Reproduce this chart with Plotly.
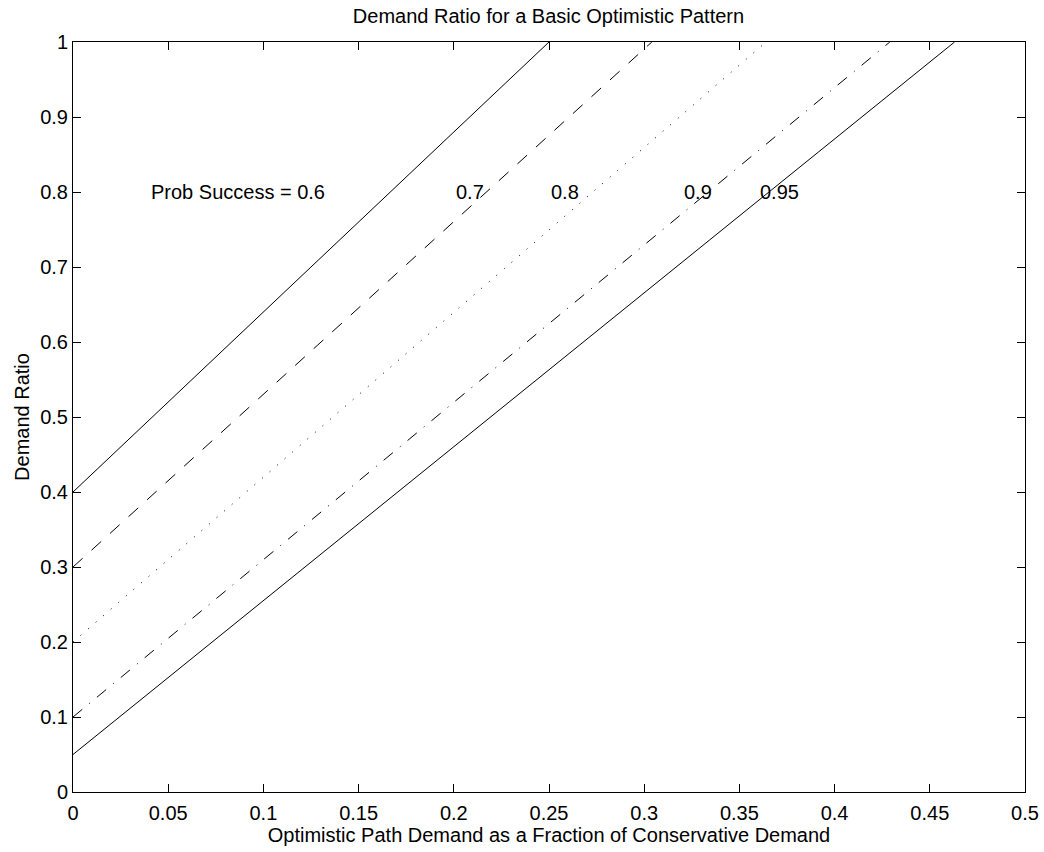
import plotly.graph_objects as go

# Data: each series is a straight line from x=0 up to y=1
prob_labels = ["Prob Success = 0.6", "0.7", "0.8", "0.9", "0.95"]
line_x = [[0.0, 0.25], [0.0, 0.304], [0.0, 0.364], [0.0, 0.429], [0.0, 0.463]]
line_y = [[0.40, 1.0], [0.30, 1.0], [0.20, 1.0], [0.10, 1.0], [0.05, 1.0]]
label_x = [0.04, 0.20, 0.25, 0.32, 0.36]
label_y = [0.8, 0.8, 0.8, 0.8, 0.8]
x_ticks = [0, 0.05, 0.1, 0.15, 0.2, 0.25, 0.3, 0.35, 0.4, 0.45, 0.5]
x_tick_text = ["0", "0.05", "0.1", "0.15", "0.2", "0.25", "0.3", "0.35", "0.4", "0.45", "0.5"]
y_ticks = [0, 0.1, 0.2, 0.3, 0.4, 0.5, 0.6, 0.7, 0.8, 0.9, 1]
y_tick_text = ["0", "0.1", "0.2", "0.3", "0.4", "0.5", "0.6", "0.7", "0.8", "0.9", "1"]

dashes = ["solid", "13px,12px", "1px,9px", "12px,9px,1px,9px", "solid"]

FONT = "Liberation Sans, Arial, sans-serif"
FS = 20

fig = go.Figure()
for xs, ys, d in zip(line_x, line_y, dashes):
    fig.add_trace(go.Scatter(x=xs, y=ys, mode="lines",
                             line=dict(color="black", width=1, dash=d),
                             showlegend=False, hoverinfo="skip"))

for t, lx, ly in zip(prob_labels, label_x, label_y):
    fig.add_annotation(x=lx, y=ly, text=t, showarrow=False, xanchor="left",
                       yanchor="middle", font=dict(family=FONT, size=FS, color="black"))

axis_common = dict(showgrid=False, zeroline=False, showline=True, linecolor="black",
                   linewidth=1, mirror="ticks", ticks="inside", ticklen=8,
                   tickcolor="black", tickwidth=1, automargin=False,
                   tickfont=dict(family=FONT, size=FS, color="black"))

fig.update_xaxes(range=[0, 0.5], tickvals=x_ticks, ticktext=x_tick_text,
                 ticklabelstandoff=3,
                 title=dict(text="Optimistic Path Demand as a Fraction of Conservative Demand",
                            font=dict(family=FONT, size=FS, color="black"), standoff=3),
                 **axis_common)
fig.update_yaxes(range=[0, 1], tickvals=y_ticks, ticktext=y_tick_text,
                 title=dict(text="Demand Ratio",
                            font=dict(family=FONT, size=FS, color="black"), standoff=5),
                 **axis_common)

fig.update_layout(
    width=1044, height=852,
    margin=dict(l=73, r=19, t=42, b=60, autoexpand=False),
    paper_bgcolor="white", plot_bgcolor="white",
    title=dict(text="Demand Ratio for a Basic Optimistic Pattern", x=548.5 / 1044, xanchor="center",
               y=1 - 15.5 / 852, yanchor="middle",
               font=dict(family=FONT, size=FS, color="black")),
)

fig.write_html("out.html", config={"displayModeBar": False},
               post_script="document.body.style.margin='0';")
